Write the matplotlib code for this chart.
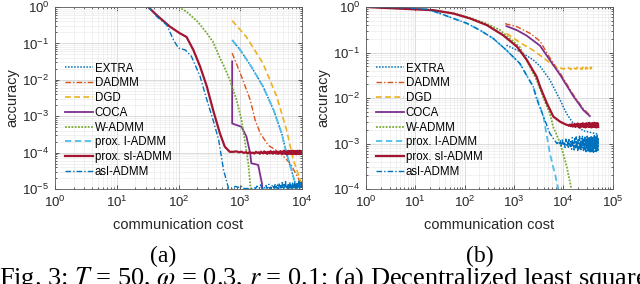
import numpy as np
import matplotlib
matplotlib.use('Agg')
import matplotlib.pyplot as plt
from matplotlib.ticker import LogLocator, FuncFormatter, NullFormatter

plt.rcParams['font.family'] = 'Liberation Sans'
plt.rcParams['mathtext.fontset'] = 'stix'

# ---------------- data, panel (a) ----------------
extra_a_x = [740, 1000, 1510, 2340, 3470, 4680, 5620, 6760, 7760, 8500]
extra_a_y = [0.123, 0.066, 0.023, 6.5e-3, 1.48e-3, 3.4e-4, 9.5e-5, 3.3e-5, 1.45e-5, 1.0e-5]

dadmm_a_x = [740, 1050, 1450, 1740, 2090, 2820, 4370, 6460, 8710, 9800]
dadmm_a_y = [0.054, 0.0123, 2.8e-3, 7.9e-4, 3.5e-4, 1.6e-4, 1.0e-4, 5.0e-5, 2.0e-5, 1.25e-5]

dgd_a_x = [740, 1260, 2340, 3890, 5620, 7240, 9330, 10000]
dgd_a_y = [0.42, 0.15, 0.028, 3.5e-3, 4.2e-4, 6.3e-5, 1.8e-5, 1.2e-5]

coca_a_x = [740, 740, 1050, 1260, 1450, 1510, 1950, 2240, 2290]
coca_a_y = [0.032, 6.3e-4, 5.1e-4, 2.75e-4, 9.5e-5, 5.1e-5, 4.6e-5, 1.45e-5, 1.0e-5]

wadmm_a_x = [100, 135, 209, 288, 363, 468, 537, 676, 871, 1047, 1202, 1349, 1445, 1479]
wadmm_a_y = [1.0, 0.74, 0.38, 0.19, 0.11, 0.04, 0.025, 0.01, 2.8e-3, 7.9e-4, 1.8e-4, 5.1e-5, 1.45e-5, 1.0e-5]

proxi_a_x = [740, 1000, 1510, 2340, 3470, 4680, 5620, 6760, 7760, 8500]
proxi_a_y = [0.123, 0.066, 0.023, 6.5e-3, 1.48e-3, 3.4e-4, 9.5e-5, 3.3e-5, 1.45e-5, 1.0e-5]

si_a_x = [32.4, 44.7, 72.4, 105, 135, 174, 224, 288, 363, 468, 562, 676]
si_a_y = [1.0, 0.59, 0.29, 0.19, 0.15, 0.066, 0.023, 6.5e-3, 1.48e-3, 3.4e-4, 1.45e-4, 1.05e-4]
si_a_tail_end = 10000
si_a_tail_e4 = [1.05, 1.08, 1.02, 1.06, 0.98, 1.03, 0.95, 1.04, 0.97, 1.0, 0.94, 1.05, 0.98, 1.02, 0.93,
                1.06, 0.99, 0.95, 1.08, 0.97, 1.02, 0.92, 1.05, 1.0, 0.95, 1.1, 0.97, 1.03, 0.93, 1.07,
                0.98, 1.02, 0.94, 1.09, 0.96, 1.04, 0.92, 1.06, 1.0, 0.95, 1.1, 0.97, 1.03, 0.91, 1.08,
                0.99, 0.94, 1.12, 0.96, 1.05, 0.92, 1.07, 0.98, 1.03, 0.9, 1.1, 0.97, 1.04, 0.93, 1.12,
                0.99, 0.95, 1.08, 0.92, 1.06, 1.0, 0.94, 1.13, 0.97, 1.03, 0.91, 1.09, 0.98, 1.05, 0.93,
                1.11, 0.96, 1.02, 0.9, 1.1, 1.0, 0.94, 1.12, 0.97, 1.05, 0.92, 1.08, 0.99, 1.03, 0.91,
                1.13, 0.96, 1.06, 0.93, 1.1, 0.98, 1.02, 0.92, 1.08, 1.0]

asi_a_x = [32.4, 44.7, 64.6, 83.2, 100, 129, 162, 224, 288, 363, 447, 537, 646]
asi_a_y = [1.0, 0.54, 0.32, 0.123, 0.074, 0.066, 0.044, 0.0123, 2.8e-3, 7.9e-4, 2.24e-4, 3.3e-5, 1.05e-5]
asi_a_tail_end = 10000
asi_a_tail_e5 = [1.05, 1.18, 1.1, 1.22, 1.04, 1.03, 1.03, 1.02, 1.03, 1.05, 1.1, 1.03, 1.2, 1.04, 1.08,
                 1.3, 1.05, 1.03, 1.15, 1.06, 1.25, 1.04, 1.1, 1.35, 1.05, 1.12, 1.03, 1.28, 1.07, 1.15,
                 1.04, 1.4, 1.08, 1.2, 1.05, 1.3, 1.1, 1.03, 1.45, 1.12, 1.06, 1.25, 1.04, 1.5, 1.1,
                 1.2, 1.05, 1.35, 1.08, 1.15, 1.6, 1.06, 1.25, 1.1, 1.04, 1.4, 1.12, 1.3, 1.05, 1.2,
                 1.55, 1.08, 1.15, 1.35, 1.05, 1.25, 1.1, 1.45, 1.06, 1.2, 1.04, 1.3, 1.12, 1.6, 1.08,
                 1.2, 1.05, 1.35, 1.15, 1.1, 1.5, 1.06, 1.25, 1.04, 1.4, 1.1, 1.2, 1.65, 1.08, 1.3,
                 1.05, 1.15, 1.45, 1.1, 1.25, 1.06, 1.55, 1.12, 1.3, 1.08]

# ---------------- data, panel (b) ----------------
extra_b_x = [708, 1318, 2455, 3390, 5370, 8710, 11750, 15850, 25700, 51300]
extra_b_y = [0.145, 0.105, 0.069, 0.05, 0.025, 8.9e-3, 4.5e-3, 2.8e-3, 1.9e-3, 1.6e-3]

dadmm_b_x = [661, 1148, 2138, 3390, 5370, 8710, 15850, 25700, 34700]
dadmm_b_y = [0.43, 0.37, 0.263, 0.178, 0.076, 0.035, 0.012, 5.75e-3, 4.2e-3]

dgd_b_x = [708, 1318, 2455, 3981, 6310, 8320]
dgd_b_y = [0.263, 0.166, 0.112, 0.076, 0.052, 0.045]
dgd_b_tail_end = 38000
dgd_b_tail_e2 = [4.5, 4.3, 4.7, 4.4, 4.6, 4.2, 4.8, 4.4, 4.5, 4.3, 4.7, 4.4, 4.6, 4.35, 4.55,
                 4.25, 4.7, 4.45, 4.6, 4.3, 4.75, 4.4, 4.55, 4.3, 4.65, 4.45, 4.6, 4.35, 4.8, 4.5]

coca_b_x = [708, 1148, 1820, 3390, 5370, 8710, 15850, 25700, 34700]
coca_b_y = [0.38, 0.31, 0.234, 0.141, 0.068, 0.032, 0.0112, 5.4e-3, 4.0e-3]

wadmm_b_x = [1, 23, 59, 129, 282, 525, 1318, 2884, 3981, 5370, 6310, 8710, 11750, 14800]
wadmm_b_y = [1.0, 0.86, 0.73, 0.58, 0.43, 0.31, 0.132, 0.025, 0.01, 4.5e-3, 2.3e-3, 1.0e-3, 3.2e-4, 9.5e-5]

proxi_b_x = [1, 6, 17, 32, 59, 110, 204, 380, 708, 1318, 2455, 3981, 5370, 6760, 7940]
proxi_b_y = [1.0, 0.96, 0.89, 0.72, 0.56, 0.44, 0.31, 0.204, 0.112, 0.0575, 0.0178, 3.9e-3, 6.0e-4, 2.2e-4, 1.0e-4]

si_b_x = [1, 23, 59, 129, 282, 603, 1148, 1820, 2884, 3390, 4677, 6310, 8710, 11750]
si_b_y = [1.0, 0.85, 0.72, 0.56, 0.40, 0.24, 0.135, 0.069, 0.0295, 0.0178, 7.6e-3, 3.9e-3, 3.0e-3, 2.57e-3]
si_b_tail_end = 51300
si_b_tail_e3 = [2.55, 2.45, 2.6, 2.4, 2.65, 2.35, 2.55, 2.7, 2.3, 2.6, 2.45, 2.75, 2.3, 2.5, 2.65,
                2.25, 2.7, 2.4, 2.55, 2.8, 2.3, 2.6, 2.45, 2.7, 2.25, 2.55, 2.8, 2.35, 2.6, 2.45,
                2.75, 2.3, 2.5, 2.85, 2.35, 2.6, 2.4, 2.7, 2.25, 2.55, 2.8, 2.3, 2.65, 2.45, 2.75,
                2.3, 2.5, 2.85, 2.35, 2.6, 2.4, 2.7, 2.25, 2.55, 2.8, 2.35, 2.65, 2.45, 2.75, 2.3]

asi_b_x = [1, 6, 17, 32, 59, 110, 204, 380, 708, 1318, 2455, 2884, 3981, 5370, 7413]
asi_b_y = [1.0, 0.96, 0.89, 0.72, 0.56, 0.44, 0.31, 0.204, 0.112, 0.0575, 0.0178, 0.0095, 3.9e-3, 1.66e-3, 1.0e-3]
asi_b_tail_end = 51300
asi_b_tail_e3 = [1.05, 0.95, 1.15, 0.88, 1.2, 0.9, 1.1, 0.82, 1.25, 0.92, 1.08, 0.78, 1.3, 0.95, 0.85,
                 1.18, 0.75, 1.35, 0.9, 1.05, 0.72, 1.28, 0.98, 0.8, 1.4, 0.88, 1.12, 0.7, 1.22, 0.95,
                 0.76, 1.45, 0.86, 1.1, 0.68, 1.3, 0.92, 0.78, 1.5, 0.84, 1.15, 0.7, 1.25, 0.98, 0.74,
                 1.38, 0.88, 1.06, 0.66, 1.3, 0.9, 0.8, 1.55, 0.85, 1.2, 0.68, 1.35, 0.95, 0.72, 1.42,
                 0.82, 1.1, 0.65, 1.28, 0.92, 0.76, 1.5, 0.86, 1.18, 0.66, 1.32, 0.96, 0.7, 1.45, 0.84,
                 1.12, 0.64, 1.3, 0.9, 0.75, 1.6, 0.85, 1.2, 0.67, 1.36, 0.94, 0.7, 1.4, 0.82, 1.1,
                 0.63, 1.3, 0.88, 0.74, 1.52, 0.86, 1.15, 0.66, 1.28, 0.92]

labels = ['EXTRA', 'DADMM', 'DGD', 'COCA', 'W-ADMM', 'prox. I-ADMM', 'prox. sI-ADMM', 'asI-ADMM']


def with_tail(x, y, tail, scale, end):
    # noisy plateau, sampled evenly in iterations up to the last cost
    tx = np.linspace(x[-1], end, len(tail) + 1)[1:]
    return list(x) + list(tx), list(y) + [v * scale for v in tail]


styles = [
    dict(color=(0, 0.447, 0.741), ls=(0, (1, 1)), lw=1.1),
    dict(color=(0.85, 0.325, 0.098), ls=(0, (4, 1.5, 1, 1.5)), lw=1.0),
    dict(color=(0.929, 0.694, 0.125), ls=(0, (3.5, 2)), lw=1.2),
    dict(color=(0.494, 0.184, 0.556), ls='-', lw=1.3),
    dict(color=(0.466, 0.674, 0.188), ls=(0, (1, 0.8)), lw=1.3),
    dict(color=(0.301, 0.745, 0.933), ls=(0, (3.5, 2)), lw=1.3),
    dict(color=(0.635, 0.078, 0.184), ls='-', lw=1.6),
    dict(color=(0, 0.447, 0.741), ls=(0, (4, 1.5, 1, 1.5)), lw=1.0),
]

series_a = [
    (extra_a_x, extra_a_y),
    (dadmm_a_x, dadmm_a_y),
    (dgd_a_x, dgd_a_y),
    (coca_a_x, coca_a_y),
    (wadmm_a_x, wadmm_a_y),
    (proxi_a_x, proxi_a_y),
    with_tail(si_a_x, si_a_y, si_a_tail_e4, 1e-4, si_a_tail_end),
    with_tail(asi_a_x, asi_a_y, asi_a_tail_e5, 1e-5, asi_a_tail_end),
]
series_b = [
    (extra_b_x, extra_b_y),
    (dadmm_b_x, dadmm_b_y),
    with_tail(dgd_b_x, dgd_b_y, dgd_b_tail_e2, 1e-2, dgd_b_tail_end),
    (coca_b_x, coca_b_y),
    (wadmm_b_x, wadmm_b_y),
    (proxi_b_x, proxi_b_y),
    with_tail(si_b_x, si_b_y, si_b_tail_e3, 1e-3, si_b_tail_end),
    with_tail(asi_b_x, asi_b_y, asi_b_tail_e3, 1e-3, asi_b_tail_end),
]

fig = plt.figure(figsize=(6.4, 2.84), dpi=100)
ax_a = fig.add_axes([55 / 640, 1 - 189 / 284, 247 / 640, 182 / 284])
ax_b = fig.add_axes([366 / 640, 1 - 189 / 284, 246.5 / 640, 182 / 284])

fmt = FuncFormatter(lambda v, p: r'$\mathregular{10^{%d}}$' % round(np.log10(v)))

for ax, series, xmax, ymin in [(ax_a, series_a, 1e4, 1e-5), (ax_b, series_b, 1e5, 1e-4)]:
    for (x, y), st, lab in zip(series, styles, labels):
        ax.plot(x, y, label=lab, **st)
    ax.set_xscale('log')
    ax.set_yscale('log')
    ax.set_xlim(1, xmax)
    ax.set_ylim(ymin, 1)
    ax.xaxis.set_major_locator(LogLocator(base=10, numticks=10))
    ax.yaxis.set_major_locator(LogLocator(base=10, numticks=10))
    ax.xaxis.set_minor_locator(LogLocator(base=10, subs=range(2, 10), numticks=20))
    ax.yaxis.set_minor_locator(LogLocator(base=10, subs=range(2, 10), numticks=20))
    ax.xaxis.set_major_formatter(fmt)
    ax.yaxis.set_major_formatter(fmt)
    ax.xaxis.set_minor_formatter(NullFormatter())
    ax.yaxis.set_minor_formatter(NullFormatter())
    ax.grid(True, which='major', color='#d6d6d6', lw=0.6)
    ax.grid(True, which='minor', color='#ebebeb', lw=0.5)
    ax.set_axisbelow(True)
    ax.tick_params(which='both', direction='in', top=True, right=True,
                   color='#262626', labelcolor='#262626', labelsize=9.5, width=0.5)
    ax.tick_params(which='major', length=3, pad=4)
    ax.tick_params(which='minor', length=1.5)
    for s in ax.spines.values():
        s.set_color('#5a5a5a')
        s.set_linewidth(0.6)
    ax.set_xlabel('communication cost', fontsize=10.5, color='#262626', labelpad=6)
    ax.set_ylabel('accuracy', fontsize=10.5, color='#262626', labelpad=2)
    ax.legend(loc='upper left', bbox_to_anchor=(0.04, 0.695), frameon=False, fontsize=8.3,
              handlelength=2.4, handletextpad=0.2, labelspacing=0.24, borderpad=0,
              borderaxespad=0)

fig.text(163 / 640, 1 - 262 / 284, '(a)', family='Liberation Serif', fontsize=17, ha='center')
fig.text(480 / 640, 1 - 262 / 284, '(b)', family='Liberation Serif', fontsize=17, ha='center')
fig.text(-1 / 640, 1 - 285 / 284,
         r'Fig. 3: $T$ = 50, $\omega$ = 0.3, $r$ = 0.1; (a) Decentralized least squares',
         family='Liberation Serif', fontsize=19, ha='left')

fig.savefig('out.png', dpi=100)
